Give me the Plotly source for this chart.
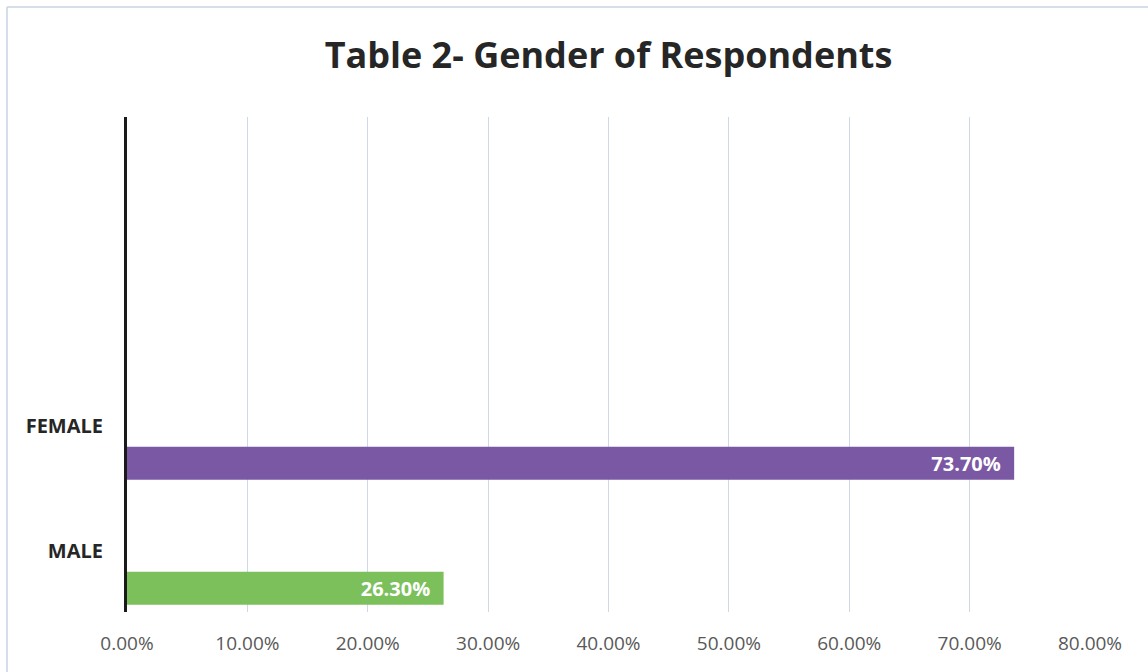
import plotly.graph_objects as go

categories = ["MALE", "FEMALE"]
values = [0.263, 0.737]
colors = ["#7cc05c", "#7b58a3"]
labels = ["26.30%", "73.70%"]
xticks = [0, 0.1, 0.2, 0.3, 0.4, 0.5, 0.6, 0.7, 0.8]
xticklabels = ["0.00%", "10.00%", "20.00%", "30.00%", "40.00%", "50.00%", "60.00%", "70.00%", "80.00%"]

pad = "\u00a0" * 2  # trailing padding inside each bar (style)

fig = go.Figure()
fig.add_trace(go.Bar(
    x=values, y=[0, 1], orientation="h",
    marker=dict(color=colors, line=dict(width=0)),
    width=0.265, offset=-0.43,
    text=[t + pad for t in labels],
    textposition="inside", insidetextanchor="end",
    textfont=dict(color="white", size=20, family="Open Sans", weight="bold"),
    hoverinfo="skip",
))

fig.update_layout(
    width=1148, height=672,
    margin=dict(l=127, r=58, t=117, b=60),
    paper_bgcolor="white", plot_bgcolor="white",
    showlegend=False,
    title=dict(text="<b>Table 2- Gender of Respondents</b>", x=0.5, xref="paper",
               y=1 - 55 / 672, yref="container", yanchor="middle",
               font=dict(size=36, family="Open Sans", color="#262626")),
    font=dict(family="Open Sans"),
)
fig.update_xaxes(
    range=[0, 0.8], tickvals=xticks, ticktext=xticklabels,
    showgrid=True, gridcolor="#cfd8e6", gridwidth=1,
    zeroline=False, showline=False,
    tickfont=dict(size=19, color="#595959", family="Open Sans"),
    ticklabelstandoff=18,
)
fig.update_yaxes(
    range=[-0.488, 3.472], tickvals=[0, 1], ticktext=categories,
    showgrid=False, zeroline=False,
    showline=True, linecolor="#1a1a1a", linewidth=3,
    tickfont=dict(size=20, color="#262626", family="Open Sans", weight="bold"),
    ticklabelstandoff=17,
)
fig.add_shape(type="line", xref="paper", yref="paper", x0=-0.1246, x1=-0.1246, y0=-0.2, y1=1.222,
              line=dict(color="#c8d3e3", width=1.5))
fig.add_shape(type="line", xref="paper", yref="paper", x0=-0.1246, x1=1.1, y0=1.222, y1=1.222,
              line=dict(color="#c8d3e3", width=1.5))

fig.write_html("out.html", config={"displayModeBar": False},
               post_script="document.body.style.margin='0';")
